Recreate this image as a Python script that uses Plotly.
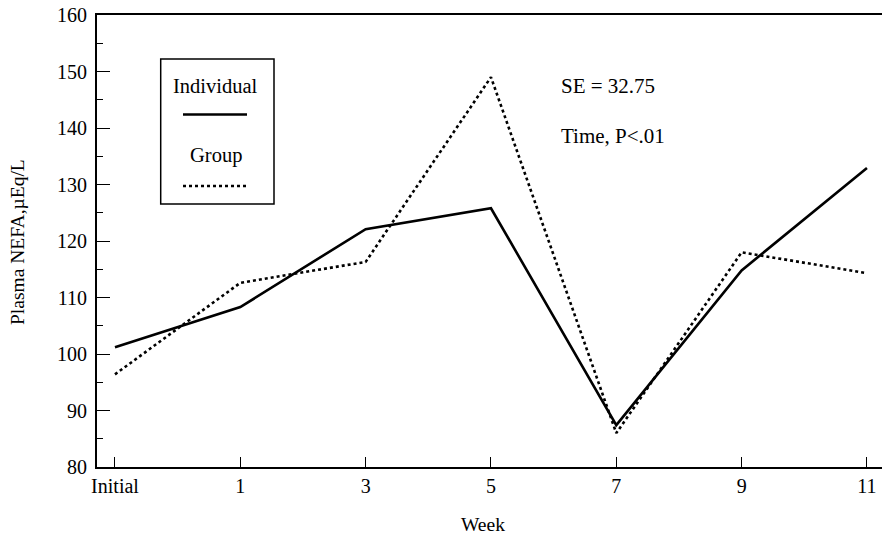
import plotly.graph_objects as go

# Data
week_labels = ["Initial", "1", "3", "5", "7", "9", "11"]
week_pos = [-1, 1, 3, 5, 7, 9, 11]
individual = [101.2, 108.3, 122.1, 125.8, 87.4, 114.8, 132.9]
group = [96.4, 112.6, 116.3, 149.0, 86.0, 118.0, 114.3]

W, H = 882, 540
L, R, T, B = 97, 0, 15, 73
PW, PH = W - L - R, H - T - B

def px(x):
    return (x - L) / PW

def py(y):
    return 1 - (y - T) / PH

FONT = "Liberation Serif"

fig = go.Figure()
fig.add_trace(go.Scatter(x=week_pos, y=individual, mode="lines", name="Individual",
                         line=dict(color="black", width=2.6, dash="solid"), showlegend=False))
fig.add_trace(go.Scatter(x=week_pos, y=group, mode="lines", name="Group",
                         line=dict(color="black", width=2.6, dash="dot"), showlegend=False))

shapes = [
    dict(type="rect", xref="paper", yref="paper", x0=px(160.7), x1=px(274), y0=py(204), y1=py(59),
         line=dict(color="black", width=1.5), fillcolor="rgba(0,0,0,0)"),
    dict(type="line", xref="paper", yref="paper", x0=px(183), x1=px(247), y0=py(114.5), y1=py(114.5),
         line=dict(color="black", width=2.6, dash="solid")),
    dict(type="line", xref="paper", yref="paper", x0=px(183), x1=px(247), y0=py(186), y1=py(186),
         line=dict(color="black", width=2.6, dash="dot")),
]

def note(text, x, y, xanchor="center", size=20.5, angle=0):
    return dict(text=text, xref="paper", yref="paper", x=px(x), y=py(y), xanchor=xanchor,
                yanchor="middle", showarrow=False, textangle=angle,
                font=dict(family=FONT, size=size, color="black"))

annotations = [
    note("Individual", 215.5, 86),
    note("Group", 215.5, 155),
    note("SE = 32.75", 559, 86, xanchor="left", size=21),
    note("Time, P<.01", 559, 136, xanchor="left", size=21),
    note("Week", 483, 524, size=19.5),
    note("Plasma NEFA,µEq/L", 18, 242, size=19.5, angle=-90),
]

fig.update_layout(
    width=W, height=H,
    margin=dict(l=L, r=R, t=T, b=B, autoexpand=False),
    paper_bgcolor="white", plot_bgcolor="white",
    font=dict(family=FONT, size=20, color="black"),
    shapes=shapes, annotations=annotations,
    xaxis=dict(
        range=[-1.287, 11.24], tickmode="array", tickvals=week_pos, ticktext=week_labels,
        ticks="inside", ticklen=10, tickwidth=1.2, tickcolor="black",
        showline=True, linecolor="black", linewidth=2.2, mirror=True,
        showgrid=False, zeroline=False, automargin=False,
        tickfont=dict(family=FONT, size=20),
    ),
    yaxis=dict(
        range=[80, 160], tickmode="array", tickvals=[80, 90, 100, 110, 120, 130, 140, 150, 160],
        ticks="inside", ticklen=13, tickwidth=1.2, tickcolor="black",
        minor=dict(ticks="inside", ticklen=6, tickwidth=1.2, tickcolor="black",
                   tickmode="array", tickvals=[85, 95, 105, 115, 125, 135, 145, 155]),
        showline=True, linecolor="black", linewidth=2.2, mirror=False,
        showgrid=False, zeroline=False, automargin=False,
        ticklabelstandoff=4,
        tickfont=dict(family=FONT, size=20),
    ),
)

fig.write_html("out.html", config={"displayModeBar": False},
               post_script="document.body.style.margin='0px';document.body.style.overflow='hidden';")
